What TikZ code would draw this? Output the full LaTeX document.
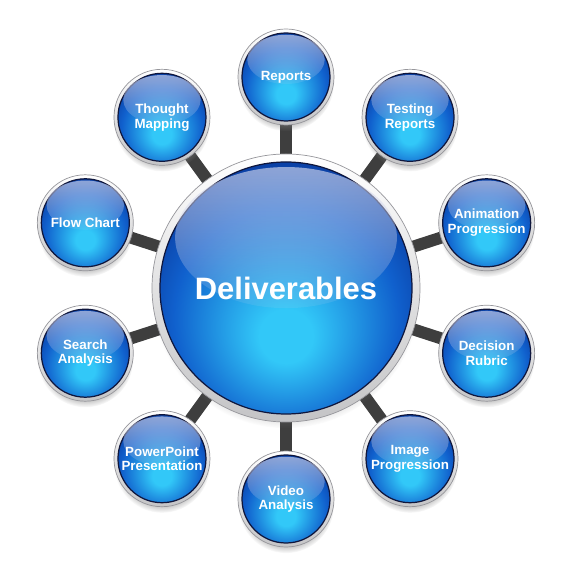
\documentclass[tikz,border=0pt]{standalone}
\usepackage{fontspec}
\setmainfont{Liberation Sans}
\usetikzlibrary{shadows,fadings,backgrounds}

\definecolor{edgeblue}{RGB}{6,36,130}
\definecolor{midblue}{RGB}{16,96,205}
\definecolor{glowcyan}{RGB}{50,200,248}
\definecolor{glosstint}{RGB}{210,215,238}
\definecolor{ringgray}{RGB}{196,196,198}
\definecolor{ringline}{RGB}{150,150,155}
\definecolor{ringdark}{RGB}{15,22,60}
\definecolor{spokegray}{RGB}{62,62,62}

\pgfdeclareradialshading{sphereglow}{\pgfpoint{0bp}{-10bp}}{%
  color(0bp)=(glowcyan); color(5bp)=(glowcyan);
  color(21bp)=(midblue); color(34bp)=(edgeblue); color(50bp)=(edgeblue)}

\newcommand{\glossball}[1]{%
  \shade[shading=sphereglow, draw=ringdark, line width=0.7pt]
    (path picture bounding box.center) circle (#1);
  \fill[glosstint, opacity=0.10]
    ([yshift={0.40*#1}]path picture bounding box.center) ellipse ({0.88*#1} and {0.56*#1});
  \fill[glosstint, opacity=0.62, path fading=south]
    ([yshift={0.40*#1}]path picture bounding box.center) ellipse ({0.88*#1} and {0.56*#1});
}

\tikzset{
  ball/.style={circle, inner sep=0pt, top color=white, bottom color=ringgray,
    draw=ringline, line width=0.4pt, text=white, align=center,
    circular drop shadow={shadow xshift=0pt, shadow yshift=-3.5pt, shadow scale=1.0, opacity=0.45}},
  bubble/.style={ball, minimum size=1.92cm, path picture={\glossball{0.88cm}},
    font=\bfseries\fontsize{7.6}{8.3}\selectfont},
  hub/.style={ball, minimum size=5.36cm, path picture={\glossball{2.52cm}},
    font=\bfseries\fontsize{17.6}{20}\selectfont},
  spoke/.style={line width=0.24cm, draw=spokegray}
}

\begin{document}
\begin{tikzpicture}
  \useasboundingbox (-5.72,-5.76) rectangle (5.80,5.76);

  \node[hub] (hub) at (0,0) {Deliverables};

  \foreach \ang/\lbl [count=\i] in {90/Reports, 54/Testing\\Reports,
      18/Animation\\Progression, -18/Decision\\Rubric, -54/Image\\Progression,
      -90/Video\\Analysis, -126/PowerPoint\\Presentation, -162/Search\\Analysis,
      162/Flow Chart, 126/Thought\\Mapping} {
    \node[bubble] (d\i) at (\ang:4.22) {\lbl};
  }

  \begin{scope}[on background layer]
    \foreach \i in {1,...,10} {
      \draw[spoke] (hub.center) -- (d\i.center);
    }
  \end{scope}
\end{tikzpicture}
\end{document}
